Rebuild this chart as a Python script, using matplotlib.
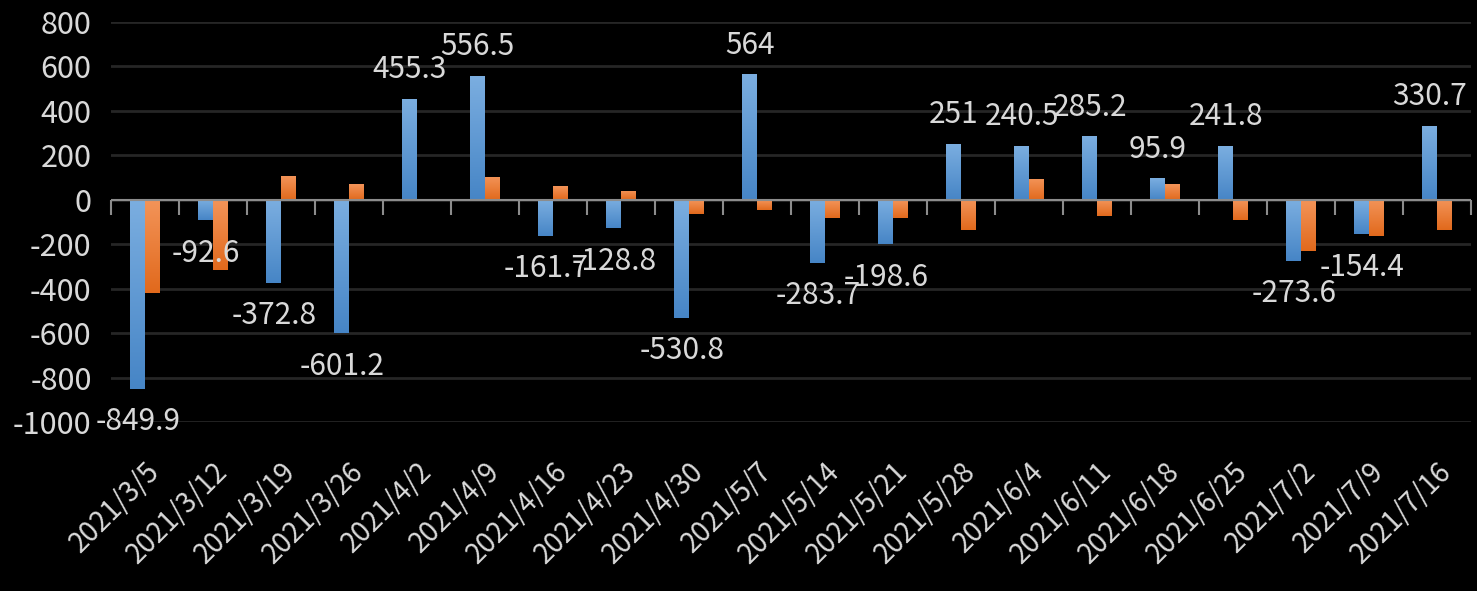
import matplotlib
matplotlib.use("Agg")
import matplotlib.pyplot as plt
from matplotlib.colors import LinearSegmentedColormap
from matplotlib.transforms import ScaledTranslation
from matplotlib.markers import TICKDOWN
import numpy as np

plt.rcParams['font.family'] = ['Noto Sans CJK TC', 'DejaVu Sans']
plt.rcParams['axes.unicode_minus'] = False

dates = ["2021/3/5", "2021/3/12", "2021/3/19", "2021/3/26", "2021/4/2",
         "2021/4/9", "2021/4/16", "2021/4/23", "2021/4/30", "2021/5/7",
         "2021/5/14", "2021/5/21", "2021/5/28", "2021/6/4", "2021/6/11",
         "2021/6/18", "2021/6/25", "2021/7/2", "2021/7/9", "2021/7/16"]
blue_vals = [-849.9, -92.6, -372.8, -601.2, 455.3, 556.5, -161.7, -128.8,
             -530.8, 564, -283.7, -198.6, 251, 240.5, 285.2, 95.9, 241.8,
             -273.6, -154.4, 330.7]
orange_vals = [-418, -314, 108, 72, 4, 104, 63, 41, -62, -44, -80, -80,
               -138, 95, -71, 72, -89, -229, -165, -138]
yticks = [-1000, -800, -600, -400, -200, 0, 200, 400, 600, 800]

txt_color = '#D9D9D9'
bg = 'black'


def gradient_bars(ax, bars, c_top, c_bot):
    cmap = LinearSegmentedColormap.from_list('g', [c_bot, c_top])
    grad = np.linspace(0, 1, 256).reshape(-1, 1)
    for b in bars:
        x, y = b.get_xy()
        w, h = b.get_width(), b.get_height()
        y0, y1 = sorted([y, y + h])
        b.set_facecolor('none')
        im = ax.imshow(grad, cmap=cmap, extent=[x, x + w, y0, y1],
                       origin='lower', aspect='auto', zorder=3,
                       interpolation='bilinear')
        im.set_clip_path(b)


fig = plt.figure(figsize=(14.77, 5.91), dpi=100, facecolor=bg)
ax = fig.add_axes([0.0752, 0.286, 0.9208, 0.6768], facecolor=bg)

x = np.arange(len(dates))
w = 0.215
b1 = ax.bar(x - w / 2, blue_vals, w, color='#5B9BD5', zorder=3, linewidth=0)
b2 = ax.bar(x + w / 2, orange_vals, w, color='#ED7D31', zorder=3, linewidth=0)
gradient_bars(ax, b1, '#7BAEE0', '#4685C6')
gradient_bars(ax, b2, '#F39459', '#E1691C')

# data labels on the blue series
for xi, v in zip(x, blue_vals):
    off = 15 if v >= 0 else -30
    ax.annotate(f"{v:g}", (xi - w / 2, v), xytext=(0, off),
                textcoords='offset points', ha='center', va='baseline',
                fontsize=21.5, color=txt_color, zorder=5)

ax.set_ylim(-1000, 800)
ax.set_xlim(-0.5, len(dates) - 0.5)
ax.set_yticks(yticks)
ax.grid(axis='y', color='#262626', linewidth=2, zorder=0)
ax.axhline(0, color='#8C8C8C', linewidth=1.5, zorder=4)
for s in ax.spines.values():
    s.set_visible(False)
ax.tick_params(axis='y', length=0, pad=14, labelsize=22, labelcolor=txt_color)

ax.set_xticks(x)
ax.set_xticklabels(dates, rotation=45, ha='right', rotation_mode='anchor')
ax.tick_params(axis='x', length=0, pad=25, labelsize=20, labelcolor=txt_color)
for lab in ax.get_xticklabels():
    lab.set_transform(lab.get_transform() + ScaledTranslation(0.0, 0, fig.dpi_scale_trans))

# category separator ticks on the zero line
bounds = np.arange(-0.5, len(dates), 1)
ax.plot(bounds, np.zeros_like(bounds), linestyle='none', marker=TICKDOWN,
        markersize=11, markeredgewidth=1.5, color='#8C8C8C', zorder=4,
        clip_on=False)

fig.savefig("out.png", dpi=100, facecolor=bg)
